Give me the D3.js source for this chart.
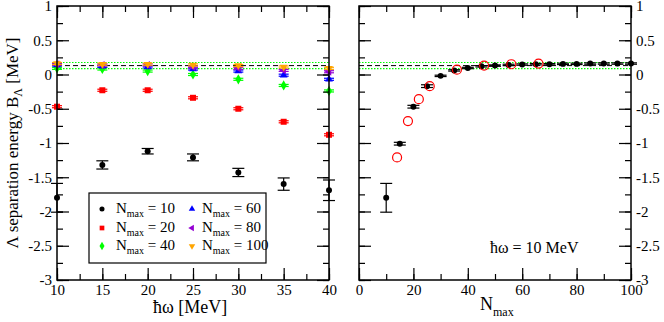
<!DOCTYPE html>
<html><head><meta charset="utf-8">
<script src="https://cdn.jsdelivr.net/npm/d3@7"></script>
<style>
body{margin:0;background:#fff}
svg{display:block}
</style>
</head><body>
<svg id="c" width="664" height="322"></svg>
<script>
// ---- data ----
const hw = [10, 15, 20, 25, 30, 35, 40];
const nmax10 = [-1.80, -1.32, -1.12, -1.21, -1.43, -1.60, -1.69];
const err10  = [0.21, 0.06, 0.04, 0.05, 0.06, 0.09, 0.15];
const nmax20 = [-0.47, -0.23, -0.23, -0.34, -0.50, -0.69, -0.88];
const nmax40 = [0.09, 0.08, 0.05, 0.00, -0.07, -0.16, -0.24];
const nmax60 = [0.14, 0.12, 0.11, 0.08, 0.05, -0.01, -0.07];
const nmax80 = [0.15, 0.14, 0.14, 0.11, 0.09, 0.06, 0.04];
const nmax100 = [0.16, 0.15, 0.15, 0.14, 0.13, 0.11, 0.09];
const errSmall = [0.015, 0.015, 0.015, 0.015, 0.015, 0.015, 0.015];

const nmaxConv = [10, 15, 20, 25, 30, 35, 40, 45, 50, 55, 60, 65, 70, 75, 80, 85, 90, 95, 100];
const bConv    = [-1.80, -1.01, -0.47, -0.17, -0.02, 0.06, 0.095, 0.12, 0.13, 0.14, 0.145, 0.15, 0.15, 0.155, 0.155, 0.16, 0.16, 0.16, 0.16];
const errConv  = [0.21, 0.02, 0.02, 0.02, 0.01, 0.01, 0.01, 0.01, 0.01, 0.01, 0.01, 0.01, 0.01, 0.01, 0.01, 0.01, 0.01, 0.01, 0.01];

const nmaxExt = [14, 18, 22, 26, 36, 46, 56, 66];
const bExt    = [-1.21, -0.68, -0.36, -0.17, 0.07, 0.13, 0.15, 0.16];

const bandCenter = 0.13;
const bandHalf = 0.045;

const yTicks = [1, 0.5, 0, -0.5, -1, -1.5, -2, -2.5, -3];
const hwTicks = [10, 15, 20, 25, 30, 35, 40];
const nTicks = [0, 20, 40, 60, 80, 100];

const legendLabels = ["10", "20", "40", "60", "80", "100"];

// ---- layout ----
const FONT = "Liberation Serif";
const svg = d3.select("#c");
const yTop = 6, yBot = 280;
const L = {x0: 57, x1: 329};
const R = {x0: 359, x1: 631};

const y = d3.scaleLinear().domain([-3, 1]).range([yBot, yTop]);
const xL = d3.scaleLinear().domain([10, 40]).range([L.x0, L.x1]);
const xR = d3.scaleLinear().domain([0, 100]).range([R.x0, R.x1]);

const fmt = d => String(d);
const yMinor = d3.range(-3, 1.001, 0.25);

function axes(x, x0, x1, majors, minors, leftLabels, rightLabels) {
  const g = svg.append("g");
  function add(axisGen, tr, size, labels, tickVals) {
    const a = g.append("g").attr("transform", tr)
      .call(axisGen.tickValues(tickVals).tickSize(size).tickPadding(labels ? 5 : 0)
        .tickFormat(labels ? fmt : ""));
    a.attr("font-family", null);
    a.select(".domain").remove();
    a.selectAll("line").attr("stroke", "#000").attr("stroke-width", 1.2);
    a.selectAll("text").attr("font-size", 15).attr("fill", "#000");
    return a;
  }
  const b = add(d3.axisBottom(x), `translate(0,${yBot})`, -12, true, majors);
  b.selectAll("text").attr("y", 4);
  add(d3.axisBottom(x), `translate(0,${yBot})`, -6, false, minors);
  add(d3.axisTop(x), `translate(0,${yTop})`, -12, false, majors);
  add(d3.axisTop(x), `translate(0,${yTop})`, -6, false, minors);
  add(d3.axisLeft(y), `translate(${x0},0)`, -12, leftLabels, yTicks);
  add(d3.axisLeft(y), `translate(${x0},0)`, -6, false, yMinor);
  add(d3.axisRight(y), `translate(${x1},0)`, -12, rightLabels, yTicks);
  add(d3.axisRight(y), `translate(${x1},0)`, -6, false, yMinor);
  g.append("rect").attr("x", x0).attr("y", yTop).attr("width", x1 - x0).attr("height", yBot - yTop)
    .attr("fill", "none").attr("stroke", "#000").attr("stroke-width", 1.5);
}

function band(x0, x1) {
  [bandCenter + bandHalf, bandCenter - bandHalf].forEach(v => {
    svg.append("line").attr("x1", x0).attr("x2", x1).attr("y1", y(v)).attr("y2", y(v))
      .attr("stroke", "#00ff00").attr("stroke-width", 1.2).attr("stroke-dasharray", "1.5,1.5");
  });
  svg.append("line").attr("x1", x0).attr("x2", x1).attr("y1", y(bandCenter)).attr("y2", y(bandCenter))
    .attr("stroke", "#000").attr("stroke-width", 1).attr("stroke-dasharray", "5,3");
}

band(L.x0, L.x1);
band(R.x0, R.x1);

function symbolPath(type, s) {
  switch (type) {
    case "circle": return d3.symbol(d3.symbolCircle, s)();
    case "square": return d3.symbol(d3.symbolSquare, s)();
    case "diamond": return d3.symbol(d3.symbolDiamond, s)();
    default: return d3.symbol(d3.symbolTriangle, s)();
  }
}
const rot = {left: -90, down: 180};

function series(x, xs, ys, es, color, type, capW) {
  const g = svg.append("g");
  const data = xs.map((v, i) => ({x: v, y: ys[i], e: es ? es[i] : 0}));
  if (es) {
    data.forEach(d => {
      const cx = x(d.x);
      g.append("line").attr("x1", cx).attr("x2", cx).attr("y1", y(d.y + d.e)).attr("y2", y(d.y - d.e))
        .attr("stroke", color).attr("stroke-width", 1.2);
      [d.y + d.e, d.y - d.e].forEach(v => g.append("line")
        .attr("x1", cx - capW / 2).attr("x2", cx + capW / 2).attr("y1", y(v)).attr("y2", y(v))
        .attr("stroke", color).attr("stroke-width", 1.2));
    });
  }
  const sizes = {circle: 28, square: 36, diamond: 30, up: 26, left: 26, down: 26};
  g.selectAll("path.m").data(data).join("path").attr("class", "m")
    .attr("d", symbolPath(type, sizes[type]))
    .attr("transform", d => `translate(${x(d.x)},${y(d.y)}) rotate(${rot[type] || 0})`)
    .attr("fill", color);
}

const colors = ["#000000", "#ff0000", "#00ff00", "#0000ff", "#9400d3", "#ffa500"];
const types = ["circle", "square", "diamond", "up", "left", "down"];
const leftSeries = [nmax10, nmax20, nmax40, nmax60, nmax80, nmax100];
leftSeries.forEach((s, i) => series(xL, hw, s, i === 0 ? err10 : errSmall, colors[i], types[i], i === 0 ? 12 : 10));

series(xR, nmaxConv, bConv, errConv, "#000", "circle", 12);
svg.append("g").selectAll("circle").data(nmaxExt.map((v, i) => ({x: v, y: bExt[i]}))).join("circle")
  .attr("cx", d => xR(d.x)).attr("cy", d => y(d.y)).attr("r", 4.5)
  .attr("fill", "none").attr("stroke", "#ff0000").attr("stroke-width", 1.2);

axes(xL, L.x0, L.x1, hwTicks, d3.range(10, 40.01, 2.5), true, false);
axes(xR, R.x0, R.x1, nTicks, d3.range(0, 100.01, 10), false, true);

// legend
const lg = svg.append("g");
lg.append("rect").attr("x", 89).attr("y", 193).attr("width", 177).attr("height", 70)
  .attr("fill", "#fff").attr("stroke", "#000").attr("stroke-width", 1.2);
legendLabels.forEach((lab, i) => {
  const col = Math.floor(i / 3), row = i % 3;
  const sx = col ? 192 : 102, tx = col ? 202 : 116, cy = [209, 228, 246][row];
  lg.append("path").attr("d", symbolPath(types[i], [20, 22, 22, 18, 18, 18][i]))
    .attr("transform", `translate(${sx},${cy}) rotate(${rot[types[i]] || 0})`).attr("fill", colors[i]);
  const t = lg.append("text").attr("x", tx).attr("y", cy + 4).attr("font-size", 15).attr("fill", "#000");
  t.append("tspan").text("N");
  t.append("tspan").attr("font-size", 10).attr("dy", 4).text("max");
  t.append("tspan").attr("dy", -4).text(" = " + lab);
});

// titles
svg.append("text").attr("x", 153).attr("y", 313).attr("font-size", 18).text("ħω [MeV]");
const nt = svg.append("text").attr("x", 480).attr("y", 310).attr("font-size", 18);
nt.append("tspan").text("N");
nt.append("tspan").attr("font-size", 12).attr("dy", 6).text("max");

svg.append("text").attr("x", 490).attr("y", 253).attr("font-size", 16).text("ħω = 10 MeV");

const yt = svg.append("text").attr("transform", `translate(18,${(yTop + yBot) / 2}) rotate(-90)`)
  .attr("text-anchor", "middle").attr("font-size", 17);
yt.append("tspan").text("Λ separation energy B");
yt.append("tspan").attr("font-size", 12).attr("dy", 4).text("Λ");
yt.append("tspan").attr("dy", -4).text(" [MeV]");

svg.selectAll("text").style("font-family", FONT);
</script>
</body></html>
